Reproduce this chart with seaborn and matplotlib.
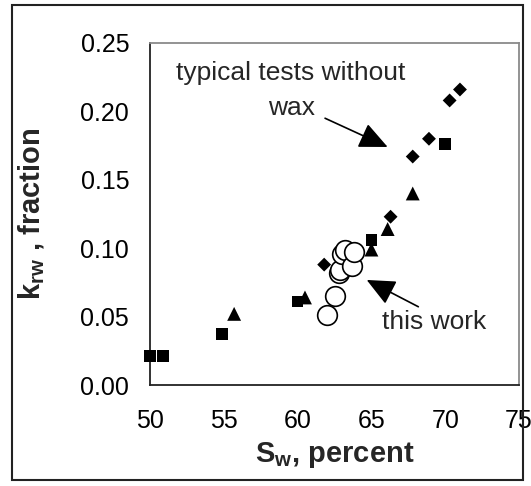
import matplotlib
matplotlib.use("Agg")
import matplotlib.pyplot as plt
from matplotlib.patches import Rectangle
import seaborn as sns
import pandas as pd

# ---- data ----
sq_x = [50.0, 50.9, 54.9, 60.0, 65.0, 70.0]
sq_y = [0.021, 0.021, 0.037, 0.061, 0.106, 0.176]
tri_x = [55.7, 60.5, 65.0, 66.1, 67.8]
tri_y = [0.052, 0.064, 0.099, 0.114, 0.140]
dia_x = [61.8, 66.3, 67.8, 68.9, 70.3, 71.0]
dia_y = [0.088, 0.123, 0.167, 0.180, 0.208, 0.216]
circ_x = [62.0, 62.5, 62.8, 62.9, 63.0, 63.2, 63.7, 63.8]
circ_y = [0.051, 0.065, 0.082, 0.084, 0.096, 0.099, 0.087, 0.097]

x_ticks = [50, 55, 60, 65, 70, 75]
y_ticks = [0.00, 0.05, 0.10, 0.15, 0.20, 0.25]

sns.set_style("white")
plt.rcParams['font.family'] = ['Liberation Sans', 'DejaVu Sans']
plt.rcParams['mathtext.fontset'] = 'custom'
plt.rcParams['mathtext.rm'] = 'Liberation Sans'
plt.rcParams['mathtext.bf'] = 'Liberation Sans:bold'
plt.rcParams['mathtext.it'] = 'Liberation Sans:italic'

fig = plt.figure(figsize=(5.31, 4.86), dpi=100)
ax = fig.add_axes([150/531, 1 - 385/486, (519 - 150)/531, (385 - 43)/486])

fs_tick = 18
fs_note = 19
fs_label = 21

sns.scatterplot(x=sq_x, y=sq_y, marker='s', s=72, color='black', edgecolor='none',
                linewidth=0, clip_on=False, ax=ax, zorder=3)
sns.scatterplot(x=tri_x, y=tri_y, marker='^', s=100, color='black', edgecolor='none',
                linewidth=0, clip_on=False, ax=ax, zorder=3)
sns.scatterplot(x=dia_x, y=dia_y, marker='D', s=50, color='black', edgecolor='none',
                linewidth=0, clip_on=False, ax=ax, zorder=3)
sns.scatterplot(x=circ_x, y=circ_y, marker='o', s=200, color='white', edgecolor='black',
                linewidth=1.2, clip_on=False, ax=ax, zorder=4)

ax.set_xlim(50, 75)
ax.set_ylim(0, 0.25)
ax.set_xticks(x_ticks)
ax.set_yticks(y_ticks)
ax.set_xticklabels([str(v) for v in x_ticks])
ax.set_yticklabels([f"{v:.2f}" for v in y_ticks])
ax.tick_params(axis='both', direction='out', length=6, width=1, color='#333333',
               labelsize=fs_tick, labelcolor='black')
ax.tick_params(axis='x', pad=11)
ax.tick_params(axis='y', pad=9)

for side in ['left', 'bottom']:
    ax.spines[side].set_color('#222222')
    ax.spines[side].set_linewidth(1.3)
for side in ['top', 'right']:
    ax.spines[side].set_color('#8a8a8a')
    ax.spines[side].set_linewidth(1.3)

ax.set_xlabel(r'$\mathbf{S_{w}}$, percent', fontsize=fs_label, fontweight='bold', labelpad=5)
ax.set_ylabel(r'$\mathbf{k_{rw}}$ , fraction', fontsize=fs_label, fontweight='bold', labelpad=24)

arrow_kw = dict(arrowstyle='-|>,head_length=0.55,head_width=0.25', mutation_scale=32,
                color='black', lw=1.2, shrinkA=0, shrinkB=0)
ax.annotate('', xy=(66.1, 0.174), xytext=(61.86, 0.195), arrowprops=arrow_kw,
            annotation_clip=False)
ax.annotate('', xy=(64.68, 0.0768), xytext=(68.18, 0.0572), arrowprops=arrow_kw,
            annotation_clip=False)

ax.text(59.55, 0.228, 'typical tests without', fontsize=fs_note, ha='center', va='center')
ax.text(59.6, 0.2025, 'wax', fontsize=fs_note, ha='center', va='center')
ax.text(69.24, 0.046, 'this work', fontsize=fs_note, ha='center', va='center')

fig.add_artist(Rectangle((12/531, 1 - 480/486), (523 - 12)/531, (480 - 5)/486,
                         transform=fig.transFigure, fill=False, lw=1.5, ec='#222222'))

fig.savefig('out.png', dpi=100, facecolor='white')
